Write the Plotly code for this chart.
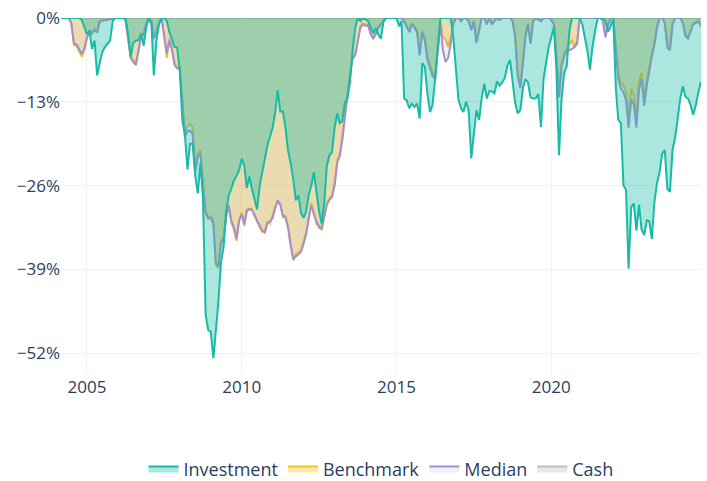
import pandas as pd
import plotly.graph_objects as go

# Monthly drawdown values (%), Mar 2004 .. Nov 2024
investment = [
    0, 0, 0, 0, 0, 0, 0, 0, -0.3, -1.5,  # 2004 Mar-Dec
    -2.5, -2.0, -4.8, -3.5, -8.9, -7.0, -5.3, -4.5, -4.0, -3.5, -0.5, 0,  # 2005
    0, 0, 0, 0, -2.4, -6.0, -3.9, -3.5, -3.5, -2.4, -4.3, -1.5,  # 2006
    0, -1.0, -8.9, -3.5, -1.0, 0, 0, -0.5, -2.2, -3.5, -4.5, -4.6,  # 2007
    -8.0, -16.0, -18.0, -23.5, -19.5, -19.5, -24.4, -27.2, -22.5, -28.0, -46.0, -48.4,  # 2008
    -48.7, -52.8, -49.0, -44.0, -38.0, -35.5, -30.0, -27.5, -26.5, -25.2, -24.5, -23.6,  # 2009
    -21.8, -23.0, -26.4, -24.6, -26.5, -28.0, -29.7, -26.0, -24.0, -22.0, -19.7, -18.4,  # 2010
    -17.0, -14.6, -11.2, -14.5, -14.5, -17.0, -20.5, -22.5, -25.0, -28.3, -27.5, -30.3,  # 2011
    -31.0, -30.0, -27.5, -26.0, -23.9, -27.0, -30.0, -31.9, -28.6, -23.0, -21.3, -20.8,  # 2012
    -17.0, -14.8, -16.3, -16.0, -13.2, -12.5, -10.0, -5.0, -1.6, 0, -0.5, 0,  # 2013
    -0.3, -0.5, -1.4, -2.4, -1.6, -2.6, -3.2, -0.5, 0, 0, 0, 0,  # 2014
    0, -1.3, -0.5, -12.5, -12.8, -14.0, -13.3, -13.8, -13.3, -15.6, -7.0, -7.6,  # 2015
    -11.8, -14.6, -13.5, -9.4, -5.0, 0, 0, 0, 0, 0, -3.0, -8.0,  # 2016
    -12.7, -14.0, -14.6, -13.0, -14.3, -21.8, -18.0, -14.3, -15.8, -12.5, -10.2, -12.5,  # 2017
    -11.3, -11.4, -11.7, -9.8, -10.5, -10.0, -9.3, -7.4, -6.5, -10.0, -13.2, -14.8,  # 2018
    -14.3, -10.8, -9.5, -10.0, -12.3, -12.5, -12.5, -11.8, -16.9, -9.5, -7.0, -4.5,  # 2019
    -3.0, -1.4, -8.0, -21.3, -12.5, -8.5, -7.5, -2.0, 0, 0, 0, 0,  # 2020
    -1.0, -3.3, -5.0, -8.0, -4.5, -2.0, 0, 0, 0, -0.5, -2.1, -1.3,  # 2021
    0, -11.0, -15.8, -16.3, -26.0, -26.7, -38.9, -29.3, -28.8, -33.0, -29.0, -32.8,  # 2022
    -33.7, -31.4, -31.5, -34.3, -28.6, -25.6, -24.0, -21.0, -20.5, -26.5, -27.0, -20.5,  # 2023
    -18.5, -15.5, -12.5, -10.6, -12.2, -12.5, -13.5, -15.0, -13.5, -11.5, -9.9,  # 2024 Jan-Nov
]

benchmark = [
    0, 0, 0, 0, -0.9, -4.2, -4.4, -5.2, -6.0, -5.0,
    -3.2, -2.1, -2.5, -1.8, -2.3, -0.5, -0.4, -0.3, -0.3, -0.2, 0, 0,
    0, 0, 0, -0.3, -2.8, -6.0, -6.5, -7.0, -5.3, -2.8, -2.3, -0.8,
    0, -0.4, -3.0, -2.0, -0.7, 0, -2.6, -6.2, -3.2, -4.6, -7.0, -7.6,
    -7.6, -13.5, -17.5, -16.8, -16.5, -17.0, -23.5, -21.0, -20.5, -25.5, -30.3, -31.2,
    -30.8, -31.5, -38.3, -38.8, -34.6, -34.0, -30.6, -29.3, -31.8, -32.8, -34.6, -31.2,
    -30.2, -32.3, -29.7, -29.8, -29.6, -30.8, -31.3, -32.5, -33.2, -33.0, -31.5, -31.9,
    -30.6, -29.2, -28.6, -28.8, -30.9, -30.7, -32.2, -35.0, -37.6, -36.7, -36.4, -36.0,
    -34.7, -33.2, -31.3, -28.7, -30.2, -32.0, -32.2, -32.9, -30.7, -28.7, -28.0, -27.5,
    -25.6, -22.0, -21.2, -18.6, -15.0, -11.5, -8.6, -6.0, -5.5, -3.4, -1.2, -0.8,
    -1.0, -1.0, -2.3, -3.3, -2.3, -1.3, -0.8, -0.3, 0, 0, 0, 0,
    0, 0, 0, -0.4, -1.2, -2.0, -0.8, -1.3, -2.0, -5.5, -2.0, -3.2,
    -6.0, -7.5, -8.5, -9.0, -4.5, -0.5, -3.0, -3.3, -4.5, -3.0, -0.5, 0,
    0, -0.4, 0, 0, -0.4, -1.7, -0.4, -3.6, -1.8, 0, 0, -0.8,
    0, -0.8, -0.4, 0, -0.2, 0, 0, 0, 0, -0.4, -2.7, -8.6,
    -10.5, -6.6, -2.7, -0.8, -3.7, -0.4, 0, -0.2, -0.4, 0, 0, 0,
    -0.2, -0.8, -5.5, -12.0, -7.0, -5.5, -4.8, -4.0, -3.5, -4.5, -3.5, 0,
    0, 0, 0, 0, 0, 0, 0, 0, -0.4, -2.7, -0.8, 0,
    0, -4.5, -8.5, -10.0, -10.5, -11.5, -15.5, -11.0, -12.0, -15.5, -10.0, -8.5,
    -12.5, -9.5, -7.5, -5.5, -3.8, -1.2, 0, 0, -0.6, -4.2, -4.6, -0.8,
    0, 0, 0, -0.6, -2.5, -3.0, -1.8, -0.8, -0.6, -0.4, -1.1,
]

median = [
    0, 0, 0, 0, -0.8, -4.0, -4.1, -4.8, -5.6, -4.8,
    -3.0, -2.0, -2.3, -1.8, -2.2, -0.5, -0.4, -0.3, -0.3, -0.2, 0, 0,
    0, 0, 0, -0.3, -3.0, -6.2, -6.8, -7.3, -5.0, -3.0, -2.5, -1.0,
    0, -0.5, -3.2, -2.2, -0.8, 0, -2.9, -5.5, -3.5, -5.0, -7.3, -7.8,
    -8.0, -14.0, -18.5, -17.5, -17.5, -18.0, -24.0, -21.5, -21.0, -26.0, -30.0, -31.0,
    -31.0, -32.0, -38.0, -38.6, -35.0, -34.3, -31.0, -29.0, -31.5, -32.5, -34.3, -31.5,
    -30.5, -32.0, -30.0, -29.6, -29.8, -30.5, -31.6, -32.2, -33.0, -33.3, -31.8, -31.6,
    -31.0, -29.5, -28.3, -29.0, -30.6, -31.0, -32.5, -35.3, -37.4, -37.0, -36.7, -36.3,
    -35.0, -33.5, -31.0, -29.0, -30.5, -31.7, -32.5, -32.7, -31.0, -29.0, -28.2, -27.8,
    -26.0, -22.4, -21.5, -19.0, -15.5, -12.0, -9.0, -6.3, -5.8, -3.7, -1.5, -1.0,
    -1.2, -1.2, -2.5, -3.2, -2.5, -1.5, -1.0, -0.5, 0, 0, 0, 0,
    0, 0, 0, -0.5, -1.4, -2.2, -1.0, -1.5, -2.2, -5.8, -2.2, -3.5,
    -6.5, -8.0, -9.0, -9.5, -5.0, -1.0, -5.0, -6.8, -6.2, -4.0, -1.0, 0,
    0, -0.5, 0, 0, -0.5, -1.9, -0.5, -3.9, -2.0, 0, 0, -1.0,
    0, -1.0, -0.5, 0, -0.3, 0, 0, 0, 0, -0.5, -3.0, -9.0,
    -10.9, -7.0, -3.0, -1.0, -4.0, -0.5, 0, -0.3, -0.5, 0, 0, 0,
    -0.3, -1.0, -6.0, -12.3, -7.5, -6.0, -5.0, -5.0, -4.8, -4.5, -4.0, 0,
    0, 0, 0, 0, 0, 0, 0, 0, -0.5, -3.0, -1.0, 0,
    0, -5.0, -9.4, -11.0, -11.5, -12.8, -17.0, -12.5, -13.5, -17.0, -11.0, -9.5,
    -13.6, -10.4, -8.0, -6.0, -4.2, -1.5, 0, 0, -0.8, -4.6, -5.0, -1.0,
    0, 0, 0, -0.8, -2.8, -3.2, -2.0, -1.0, -0.8, -0.5, -1.3,
]

cash = [
    0, 0, 0, 0, 0, 0, 0, 0, 0, 0,
    0, 0, 0, 0, 0, 0, 0, 0, 0, 0, 0, 0,
    0, 0, 0, 0, 0, 0, 0, 0, 0, 0, 0, 0,
    0, 0, 0, 0, 0, 0, 0, 0, 0, 0, 0, 0,
    0, 0, 0, 0, 0, 0, 0, 0, 0, 0, 0, 0,
    0, 0, 0, 0, 0, 0, 0, 0, 0, 0, 0, 0,
    0, 0, 0, 0, 0, 0, 0, 0, 0, 0, 0, 0,
    0, 0, 0, 0, 0, 0, 0, 0, 0, 0, 0, 0,
    0, 0, 0, 0, 0, 0, 0, 0, 0, 0, 0, 0,
    0, 0, 0, 0, 0, 0, 0, 0, 0, 0, 0, 0,
    0, 0, 0, 0, 0, 0, 0, 0, 0, 0, 0, 0,
    0, 0, 0, 0, 0, 0, 0, 0, 0, 0, 0, 0,
    0, 0, 0, 0, 0, 0, 0, 0, 0, 0, 0, 0,
    0, 0, 0, 0, 0, 0, 0, 0, 0, 0, 0, 0,
    0, 0, 0, 0, 0, 0, 0, 0, 0, 0, 0, 0,
    0, 0, 0, 0, 0, 0, 0, 0, 0, 0, 0, 0,
    0, 0, 0, 0, 0, 0, 0, 0, 0, 0, 0, 0,
    0, 0, 0, 0, 0, 0, 0, 0, 0, 0, 0, 0,
    0, 0, 0, 0, 0, 0, 0, 0, 0, 0, 0, 0,
    0, 0, 0, 0, 0, 0, 0, 0, 0, 0, 0, 0,
    0, 0, 0, 0, 0, 0, 0, 0, 0, 0, 0,
]

dates = pd.date_range("2004-03-01", periods=len(investment), freq="MS")

y_tick_values = [0, -13, -26, -39, -52]
y_tick_labels = ["0%", "\u221213%", "\u221226%", "\u221239%", "\u221252%"]
x_tick_values = ["2005-01-01", "2010-01-01", "2015-01-01", "2020-01-01"]
x_tick_labels = ["2005", "2010", "2015", "2020"]

series = [
    # name, values, line colour, fill colour, legend rank
    ("Cash", cash, "#bdbdbd", "rgba(189,189,189,0.35)", 4),
    ("Benchmark", benchmark, "#f4c21b", "rgba(236,196,40,0.38)", 2),
    ("Median", median, "#a48fd2", "rgba(150,135,200,0.14)", 3),
    ("Investment", investment, "#17bba6", "rgba(23,187,166,0.36)", 1),
]

fig = go.Figure()
for name, vals, lc, fc, rank in series:
    fig.add_trace(go.Scatter(
        x=dates, y=vals, name=name, mode="lines",
        line=dict(color=lc, width=2),
        fill="tozeroy", fillcolor=fc,
        legendrank=rank,
    ))

fig.update_layout(
    template="plotly_white",
    width=707, height=481,
    margin=dict(l=61, r=6, t=18, b=106, autoexpand=False),
    font=dict(family="Open Sans", size=17, color="#2a3f5f"),
    showlegend=True,
    legend=dict(orientation="h", x=0.5, xanchor="center", y=-0.263, yanchor="middle",
                font=dict(size=18)),
    xaxis=dict(range=[dates[0], dates[-1]], showgrid=True, gridcolor="#eef1f7",
               zeroline=False, automargin=False,
               tickmode="array", tickvals=x_tick_values, ticktext=x_tick_labels),
    yaxis=dict(range=[-55.4, 0], tickmode="array", tickvals=y_tick_values,
               ticktext=y_tick_labels, gridcolor="#eef1f7", zeroline=False,
               automargin=False),
)

fig.write_html(
    "out.html",
    config={"displayModeBar": False},
    post_script="document.body.style.margin='0';document.body.style.padding='0';",
)
